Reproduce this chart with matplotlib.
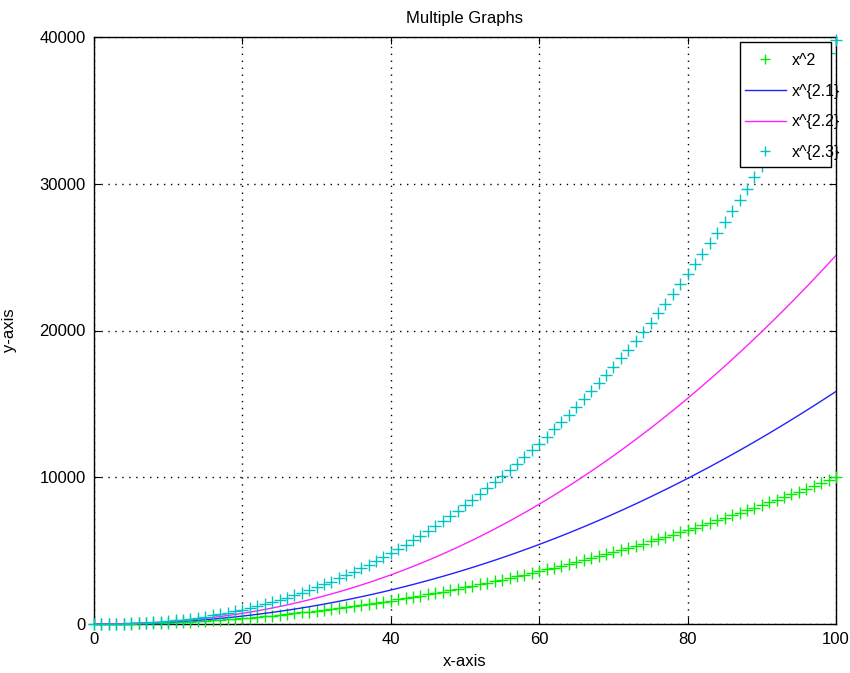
import matplotlib
matplotlib.use("Agg")
import matplotlib.pyplot as plt
from matplotlib.patches import Rectangle

plt.rcParams['font.family'] = ['Liberation Sans', 'DejaVu Sans']

x = list(range(0, 101))

y_x2 = [i * i for i in range(0, 101)]

y_x21 = [0, 1, 4, 10, 18, 29, 43, 60, 79, 101, 126,
         154, 185, 218, 255, 295, 338, 384, 433, 485, 540,
         598, 659, 724, 792, 862, 936, 1014, 1094, 1178, 1265,
         1355, 1448, 1545, 1645, 1748, 1855, 1964, 2078, 2194, 2314,
         2437, 2563, 2693, 2827, 2963, 3103, 3246, 3393, 3543, 3697,
         3854, 4014, 4178, 4345, 4516, 4690, 4868, 5049, 5234, 5422,
         5613, 5808, 6006, 6208, 6414, 6623, 6835, 7051, 7271, 7494,
         7720, 7951, 8184, 8422, 8663, 8907, 9154, 9406, 9661, 9919,
         10181, 10448, 10717, 10990, 11266, 11547, 11830, 12118, 12408, 12703,
         13001, 13303, 13608, 13918, 14231, 14547, 14867, 15191, 15518, 15849]

y_x22 = [0, 1, 5, 11, 21, 34, 52, 72, 97, 126, 158,
         196, 237, 282, 332, 387, 446, 509, 578, 651, 728,
         811, 898, 990, 1088, 1190, 1297, 1409, 1527, 1649, 1777,
         1910, 2048, 2192, 2340, 2494, 2654, 2819, 2989, 3165, 3346,
         3533, 3725, 3923, 4127, 4336, 4551, 4771, 4997, 5229, 5467,
         5710, 5960, 6215, 6476, 6742, 7015, 7294, 7578, 7868, 8165,
         8467, 8775, 9090, 9410, 9737, 10070, 10408, 10753, 11104, 11461,
         11824, 12194, 12570, 12952, 13340, 13734, 14135, 14542, 14955, 15375,
         15801, 16233, 16671, 17117, 17568, 18026, 18490, 18961, 19438, 19922,
         20413, 20909, 21412, 21922, 22439, 22961, 23491, 24027, 24570, 25119]

y_x23 = [0, 1, 5, 13, 24, 41, 62, 88, 119, 157, 200,
         248, 304, 365, 433, 507, 588, 676, 771, 873, 983,
         1099, 1223, 1355, 1495, 1642, 1797, 1959, 2130, 2310, 2497,
         2692, 2896, 3109, 3330, 3559, 3797, 4044, 4300, 4565, 4839,
         5122, 5414, 5715, 6025, 6345, 6673, 7012, 7360, 7717, 8084,
         8461, 8847, 9244, 9650, 10065, 10492, 10927, 11373, 11830, 12295,
         12772, 13259, 13756, 14263, 14781, 15310, 15848, 16398, 16957, 17528,
         18109, 18701, 19304, 19918, 20542, 21178, 21824, 22482, 23150, 23829,
         24520, 25222, 25934, 26659, 27395, 28141, 28900, 29670, 30451, 31243,
         32048, 32864, 33691, 34530, 35382, 36243, 37118, 38004, 38901, 39811]

labels = ["x^2", "x^{2.1}", "x^{2.2}", "x^{2.3}"]
title = "Multiple Graphs"
xlabel = "x-axis"
ylabel = "y-axis"
xticks = [0, 20, 40, 60, 80, 100]
yticks = [0, 10000, 20000, 30000, 40000]

W, H = 850, 673
fig = plt.figure(figsize=(W / 100, H / 100), dpi=100)
ax = fig.add_axes([94 / W, 1 - 624 / H, (836 - 94) / W, (624 - 37) / H])

h1, = ax.plot(x, y_x2, linestyle='none', marker='+', color='#00ee00', markersize=8,
              markeredgewidth=1.0, clip_on=False, zorder=3)
h2, = ax.plot(x, y_x21, color='#2222ff', linewidth=1.0, zorder=3)
h3, = ax.plot(x, y_x22, color='#ff22ff', linewidth=1.0, zorder=3)
h4, = ax.plot(x, y_x23, linestyle='none', marker='+', color='#00c4c4', markersize=8,
              markeredgewidth=1.0, clip_on=False, zorder=3)

ax.set_xlim(0, 100)
ax.set_ylim(0, 40000)
ax.set_xticks(xticks)
ax.set_yticks(yticks)
ax.tick_params(direction='in', top=True, right=True, length=5, labelsize=12,
               width=0.8, pad=6)
ax.grid(True, color='black', linestyle=(0, (1, 4)), linewidth=1.0)
for s in ax.spines.values():
    s.set_linewidth(1.0)

ax.set_title(title, fontsize=12, pad=10)
ax.set_xlabel(xlabel, fontsize=12, labelpad=5)
ax.set_ylabel(ylabel, fontsize=12, labelpad=16)

# legend frame drawn separately; the text overflows it as in the original
frame = Rectangle((740 / W, 1 - 167 / H), (831 - 740) / W, (167 - 42) / H,
                  transform=fig.transFigure, facecolor='white',
                  edgecolor='black', linewidth=1.0, zorder=5)
fig.add_artist(frame)
leg = fig.legend([h1, h2, h3, h4], labels, loc='upper left',
                 bbox_to_anchor=(745 / W, 1 - 53 / H),
                 bbox_transform=fig.transFigure, fontsize=11.5, frameon=False,
                 borderpad=0.0, borderaxespad=0.0, handlelength=2.56,
                 labelspacing=0.98, handletextpad=0.38, markerscale=0.85)
leg.set_zorder(6)

fig.savefig("out.png", dpi=100)
